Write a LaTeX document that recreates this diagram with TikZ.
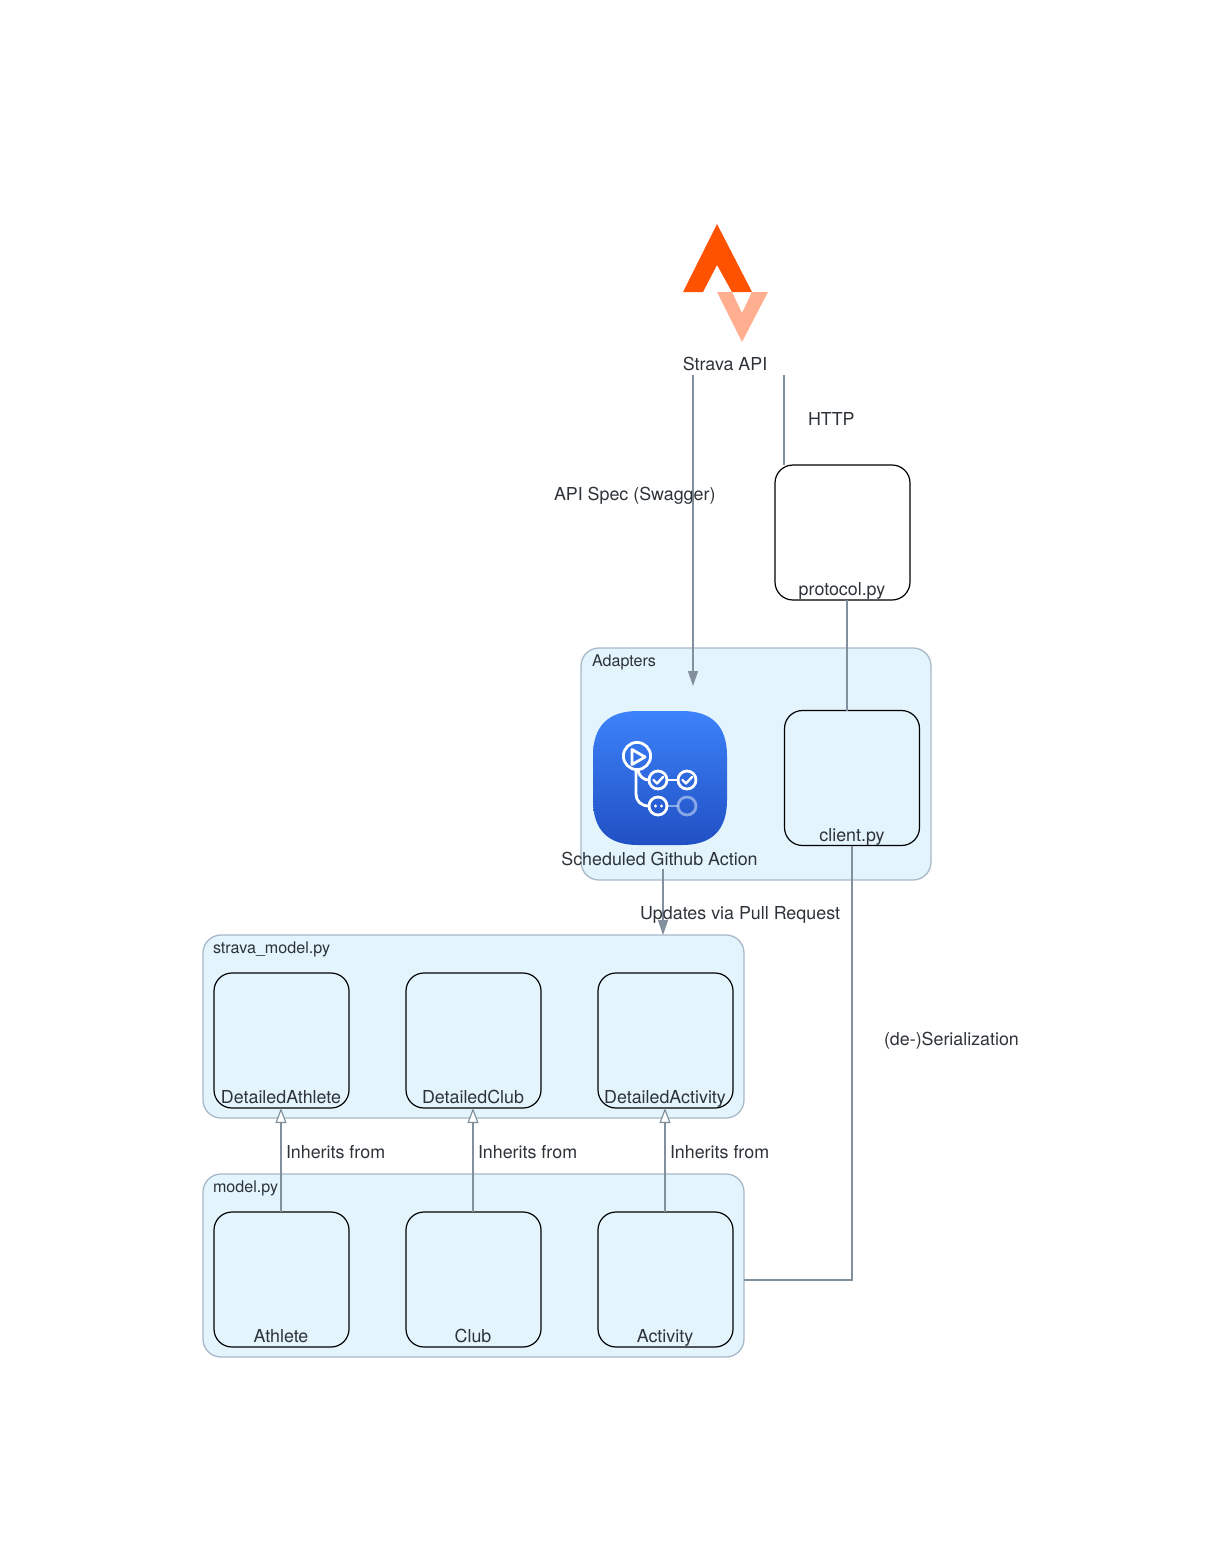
\documentclass[tikz,border=0pt]{standalone}
\usepackage{fontspec}
\setmainfont{TeX Gyre Heros}
\usetikzlibrary{arrows.meta}
\definecolor{clfill}{HTML}{E3F4FD}
\definecolor{clline}{HTML}{A8B8C8}
\definecolor{edgec}{HTML}{828F9C}
\definecolor{txt}{HTML}{2D3339}
\tikzset{
  lbl/.style={font=\fontsize{17.85}{20}\selectfont,text=txt,inner sep=0pt,outer sep=0pt},
  ttl/.style={font=\fontsize{16.1}{18}\selectfont,text=txt,inner sep=0pt,outer sep=0pt,anchor=base west},
  boxn/.style={draw=black,line width=1.2pt,rounded corners=18pt,minimum width=135pt,minimum height=135pt,inner sep=0pt,outer sep=0pt},
  clus/.style={draw=clline,fill=clfill,line width=1.3pt,rounded corners=18pt,inner sep=0pt,outer sep=0pt},
  edge/.style={draw=edgec,line width=1.15pt},
  solidarrow/.style={edge,-{Triangle[length=15pt,width=10pt,fill=edgec]}},
  openarrow/.style={edge,-{Triangle[open,length=15pt,width=11pt,fill=white]}},
  iconline/.style={draw=white,line width=2.8pt},
}
\begin{document}
\begin{tikzpicture}[x=1pt,y=-1pt]
\useasboundingbox (0,0) rectangle (1212,1560);
% clusters
\node[clus,minimum width=350pt,minimum height=232pt] (adapters) at (756,764) {};
\node[clus,minimum width=541pt,minimum height=183pt] (stravamodel) at (473.5,1026.5) {};
\node[clus,minimum width=541pt,minimum height=183pt] (modelpy) at (473.5,1265.5) {};
\node[ttl] (tadapters) at (592,666) {Adapters};
\node[ttl] (tstravamodel) at (213,953) {strava\_model.py};
\node[ttl] (tmodelpy) at (213,1192) {model.py};
% strava logo
\fill[fill={rgb,255:red,255;green,82;blue,0}] (717,224) -- (752,292) -- (732,292) -- (717,265) -- (703,292) -- (683,292) -- cycle;
\fill[fill={rgb,255:red,255;green,174;blue,143}] (717,292) -- (732,292) -- (742,313) -- (752,292) -- (768,292) -- (742,342) -- cycle;
\node[lbl,anchor=base] (strava) at (725,370) {Strava API};
% boxes
\node[boxn] (protocol) at (842.5,532.5) {};
\node[boxn] (client) at (852,778) {};
\node[boxn] (detA) at (281.5,1040.5) {};
\node[boxn] (detC) at (473.5,1040.5) {};
\node[boxn] (detB) at (665.5,1040.5) {};
\node[boxn] (athlete) at (281.5,1279.5) {};
\node[boxn] (club) at (473.5,1279.5) {};
\node[boxn] (activity) at (665.5,1279.5) {};
\node[lbl,anchor=base] (lprotocol) at (842,595) {protocol.py};
\node[lbl,anchor=base] (lclient) at (852,841) {client.py};
\node[lbl,anchor=base] (ldetA) at (281,1103) {DetailedAthlete};
\node[lbl,anchor=base] (ldetC) at (473,1103) {DetailedClub};
\node[lbl,anchor=base] (ldetB) at (665,1103) {DetailedActivity};
\node[lbl,anchor=base] (lathlete) at (281,1342) {Athlete};
\node[lbl,anchor=base] (lclub) at (473,1342) {Club};
\node[lbl,anchor=base] (lactivity) at (665,1342) {Activity};
% github icon
\shade[top color={rgb,255:red,60;green,130;blue,250},bottom color={rgb,255:red,33;green,80;blue,195}]
  (638,711) -- (682,711) .. controls (712,711) and (727,726) .. (727,756) -- (727,800)
  .. controls (727,830) and (712,845) .. (682,845) -- (638,845)
  .. controls (608,845) and (593,830) .. (593,800) -- (593,756)
  .. controls (593,726) and (608,711) .. (638,711) -- cycle;
\draw[iconline] (637,756) circle (13.6pt);
\draw[iconline,line join=round] (632,749.5) -- (645,757) -- (632,764.5) -- cycle;
\draw[iconline] (658,780) circle (9pt);
\draw[iconline] (687,780) circle (9pt);
\draw[iconline] (658,806) circle (9pt);
\draw[iconline,opacity=.45] (687,806) circle (9pt);
\draw[iconline] (636,770) -- (636,794) .. controls (636,801) and (641,806) .. (649,806);
\draw[iconline] (638,771) .. controls (640,777) and (644,780) .. (649,780);
\draw[iconline] (667,780) -- (678,780);
\draw[iconline,opacity=.45] (667,806) -- (678,806);
\draw[draw=white,line width=2.4pt,line cap=round,line join=round] (653.5,780) -- (657,783.5) -- (663,777);
\draw[draw=white,line width=2.4pt,line cap=round,line join=round] (682.5,780) -- (686,783.5) -- (692,777);
\fill[white] (655.5,806) circle (1.6pt) (661.5,806) circle (1.6pt);
\node[lbl,anchor=base] (laction) at (659.5,865) {Scheduled Github Action};
% coordinates for free ends
\coordinate (specstart) at (693,375);
\coordinate (specend) at (693,686);
\coordinate (httpstart) at (784,375);
\coordinate (httpend) at (784,465);
\coordinate (protoout) at (847,600);
\coordinate (clientin) at (847,711);
\coordinate (actout) at (663,869);
\coordinate (modelin) at (663,935);
\coordinate (modelport) at (744,1280);
% connectors
\draw[solidarrow] (specstart) -- (specend);
\draw[edge] (httpstart) -- (httpend);
\draw[edge] (protoout) -- (clientin);
\draw[solidarrow] (actout) -- (modelin);
\draw[edge] (client.south) |- (modelport);
\draw[openarrow] ([xshift=-.5pt]athlete.north) -- ([xshift=-.5pt]detA.south);
\draw[openarrow] ([xshift=-.5pt]club.north) -- ([xshift=-.5pt]detC.south);
\draw[openarrow] ([xshift=-.5pt]activity.north) -- ([xshift=-.5pt]detB.south);
% edge labels
\node[lbl,anchor=base west] (lhttp) at (808,425) {HTTP};
\node[lbl,anchor=base west] (lspec) at (554,500) {API Spec (Swagger)};
\node[lbl,anchor=base west] (lupd) at (640,919) {Updates via Pull Request};
\node[lbl,anchor=base west] (lser) at (884,1045) {(de-)Serialization};
\node[lbl,anchor=base west] (linh1) at (286,1158) {Inherits from};
\node[lbl,anchor=base west] (linh2) at (478,1158) {Inherits from};
\node[lbl,anchor=base west] (linh3) at (670,1158) {Inherits from};
\end{tikzpicture}
\end{document}
